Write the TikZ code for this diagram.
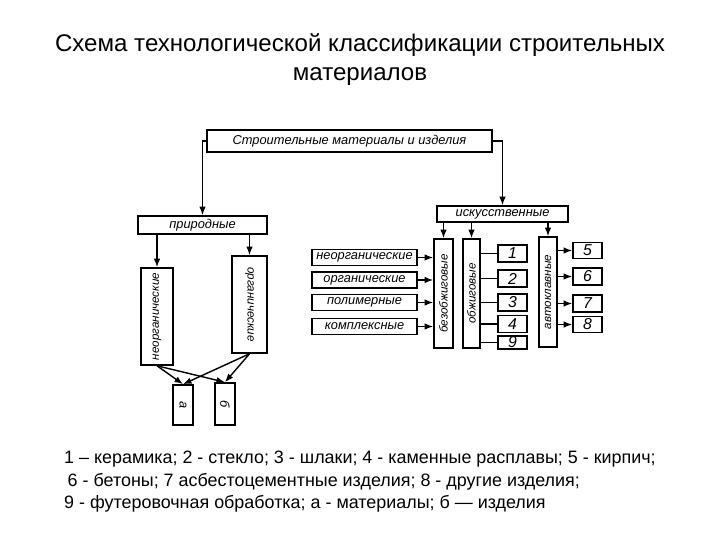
\documentclass[tikz,border=0pt]{standalone}
\usepackage{fontspec}
\setmainfont{Liberation Sans}
\usetikzlibrary{arrows.meta, calc, positioning}
\tikzset{
    box/.style={rectangle, draw=black, line width=0.9pt, fill=white, inner sep=0pt,
        align=center, font=\fontsize{7.3}{9}\selectfont\itshape},
    vbox/.style={box, font=\fontsize{6.6}{8}\selectfont\itshape},
    numbox/.style={box, minimum width=0.58cm, minimum height=0.34cm,
        font=\fontsize{9}{10}\selectfont\itshape},
    leftbox/.style={box, minimum width=2.1cm, minimum height=0.32cm},
    arrow/.style={-{Latex[length=1.7mm, width=1.3mm]}, line width=0.8pt},
    link/.style={line width=0.8pt},
}

\begin{document}
\begin{tikzpicture}[x=0.02cm, y=-0.02cm]
    \useasboundingbox (0,0) rectangle (720,540);
    \node[font=\fontsize{13.7}{16.5}\selectfont, align=center] (title) at (360,60)
        {Схема технологической классификации строительных\\материалов};

    \node[box, minimum width=5.7cm, minimum height=0.44cm] (top) at (349.5,141) {Строительные материалы и изделия};
    \node[box, minimum width=2.58cm, minimum height=0.36cm] (prirod) at (202.5,225) {природные};
    \node[box, minimum width=2.62cm, minimum height=0.32cm] (iskus) at (502.5,214) {искусственные};

    \node[vbox, minimum width=0.64cm, minimum height=1.94cm] (neorg) at (157,316.5) {\rotatebox{90}{неорганические}};
    \node[vbox, minimum width=0.7cm, minimum height=1.94cm] (org) at (249.5,304.5) {\rotatebox{-90}{органические}};
    \node[box, minimum width=0.4cm, minimum height=0.8cm] (mat) at (183,405) {\rotatebox{-90}{а}};
    \node[box, minimum width=0.4cm, minimum height=0.84cm] (izd) at (225,404) {\rotatebox{-90}{б}};

    \node[leftbox] (ineorg) at (364.5,257.5) {неорганические};
    \node[leftbox] (iorg) at (364.5,280) {органические};
    \node[leftbox] (ipolim) at (364.5,302.5) {полимерные};
    \node[leftbox] (ikompl) at (364.5,326.5) {комплексные};

    \node[vbox, minimum width=0.38cm, minimum height=2.18cm] (bezobzh) at (443.5,293.5) {\rotatebox{90}{безобжиговые}};
    \node[vbox, minimum width=0.34cm, minimum height=2.18cm] (obzh) at (471.5,293.5) {\rotatebox{90}{обжиговые}};
    \node[vbox, minimum width=0.36cm, minimum height=2.2cm] (avto) at (548,292) {\rotatebox{90}{автоклавные}};

    \node[numbox] (n1) at (512.5,253.5) {1};
    \node[numbox] (n2) at (512.5,278.5) {2};
    \node[numbox] (n3) at (512.5,302.5) {3};
    \node[numbox] (n4) at (512.5,324) {4};
    \node[numbox, minimum height=0.26cm] (n9) at (512.5,342.5) {9};
    \node[numbox, minimum height=0.32cm] (n5) at (587.5,250.5) {5};
    \node[numbox] (n6) at (587.5,276.5) {6};
    \node[numbox] (n7) at (587.5,303.5) {7};
    \node[numbox, minimum height=0.32cm] (n8) at (587.5,324.5) {8};

    \draw[arrow] (top.west) -| (prirod.north);
    \draw[arrow] (top.east) -| (iskus.north);
    \draw[arrow] (prirod.south -| neorg) -- (neorg.north);
    \draw[arrow] (prirod.south -| org) -- (org.north);
    \draw[arrow] (neorg.south) -- (mat.north);
    \draw[arrow] (neorg.south) -- (izd.north);
    \draw[arrow] (org.south) -- (mat.north);
    \draw[arrow] (org.south) -- (izd.north);

    \draw[arrow] (iskus.south -| bezobzh) -- (bezobzh.north);
    \draw[arrow] (iskus.south -| obzh) -- (obzh.north);
    \draw[arrow] (iskus.south -| avto) -- (avto.north);

    \foreach \src in {ineorg, iorg, ipolim, ikompl}
        \draw[arrow] (\src.east) -- (\src.east -| bezobzh.west);
    \foreach \dst in {n1, n2, n3, n4, n9}
        \draw[link] (obzh.east |- \dst) -- (\dst.west);
    \foreach \dst in {n5, n6, n7, n8}
        \draw[arrow] (avto.east |- \dst) -- (\dst.west);

    \node[anchor=north west, align=left, font=\fontsize{10.2}{12.8}\selectfont] (legend) at (58,445)
        {1 – керамика; 2 - стекло; 3 - шлаки; 4 - каменные расплавы; 5 - кирпич;\\
         \hspace{2pt}6 - бетоны; 7 асбестоцементные изделия; 8 - другие изделия;\\
         9 - футеровочная обработка; а - материалы; б — изделия};
\end{tikzpicture}
\end{document}
